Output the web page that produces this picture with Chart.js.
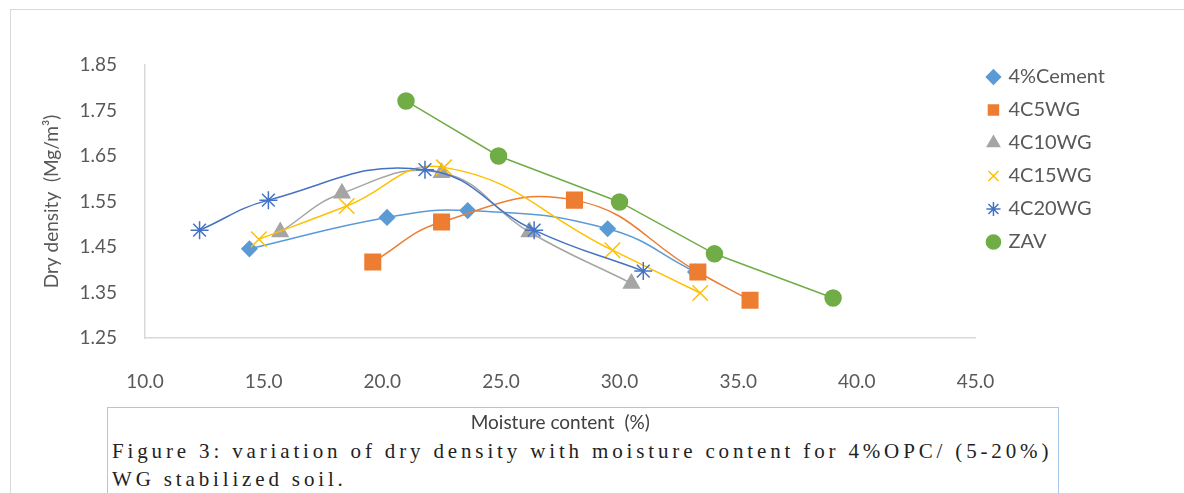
<!DOCTYPE html>
<html>
<head>
<meta charset="utf-8">
<script src="https://cdn.jsdelivr.net/npm/chart.js@4.4.0/dist/chart.umd.min.js"></script>
<style>
  body { margin: 0; background: #fff; }
  #wrap { position: relative; width: 1184px; height: 493px; overflow: hidden; }
  #frame { position: absolute; left: 10px; top: 9px; width: 1300px; height: 600px;
           border-left: 1px solid #d9d9d9; border-top: 1px solid #d9d9d9; }
  #caption { position: absolute; left: 107px; top: 407px; width: 950px; height: 150px;
             border: 1px solid #a9c7e8; }
  #caption p { margin: 0; position: absolute; left: 4px; top: 29px;
               font-family: "Liberation Serif", serif; font-size: 21px; line-height: 28px;
               letter-spacing: 3.85px; color: #222; }
  #chart { position: absolute; left: 0; top: 0; }
</style>
</head>
<body>
<div id="wrap">
  <div id="frame"></div>
  <div id="caption"><p>Figure 3: variation of dry density with moisture content for 4%OPC/ (5-20%)<br>WG stabilized soil.</p></div>
  <canvas id="chart" width="1184" height="493"></canvas>
</div>
<script>
const names = ["4%Cement", "4C5WG", "4C10WG", "4C15WG", "4C20WG", "ZAV"];
const colors = ["#5B9BD5", "#ED7D31", "#A5A5A5", "#FFC000", "#4472C4", "#70AD47"];

// moisture content (%)
const cementX = [14.4, 20.2, 23.6, 29.5, 33.2];
const c5X = [19.6, 22.5, 28.1, 33.3, 35.5];
const c10X = [15.7, 18.3, 22.5, 26.2, 30.5];
const c15X = [14.8, 18.5, 22.6, 29.7, 33.4];
const c20X = [12.3, 15.2, 21.8, 26.4, 31.0];
const zavX = [21.0, 24.9, 30.0, 34.0, 39.0];

// dry density (Mg/m3)
const cementY = [1.446, 1.515, 1.530, 1.490, 1.395];
const c5Y = [1.417, 1.505, 1.553, 1.395, 1.333];
const c10Y = [1.483, 1.568, 1.613, 1.483, 1.370];
const c15Y = [1.467, 1.540, 1.625, 1.443, 1.349];
const c20Y = [1.487, 1.553, 1.620, 1.487, 1.397];
const zavY = [1.771, 1.650, 1.549, 1.435, 1.338];

const xTicks = [10, 15, 20, 25, 30, 35, 40, 45];
const yTicks = [1.25, 1.35, 1.45, 1.55, 1.65, 1.75, 1.85];

const seriesX = [cementX, c5X, c10X, c15X, c20X, zavX];
const seriesY = [cementY, c5Y, c10Y, c15Y, c20Y, zavY];
const styles = ["rectRot", "rect", "triangle", "crossRot", "star", "circle"];
const radii = [7.5, 11, 9, 11, 9, 8];
const smooth = [0.45, 0.45, 0.45, 0.45, 0.45, 0];

const pts = (xs, ys) => xs.map((x, i) => ({ x: x, y: ys[i] }));

const datasets = names.map((name, i) => ({
  label: name,
  data: pts(seriesX[i], seriesY[i]),
  showLine: true,
  borderColor: colors[i],
  backgroundColor: colors[i],
  borderWidth: 1.5,
  pointStyle: styles[i],
  pointRadius: radii[i],
  pointBorderWidth: 1.5,
  tension: smooth[i],
  order: names.length - i
}));

const tickFont = { family: "Lato", size: 19 };

new Chart(document.getElementById("chart"), {
  type: "scatter",
  data: { datasets: datasets },
  options: {
    responsive: false,
    animation: false,
    layout: { padding: { left: 10, top: 54, right: 69, bottom: 59 } },
    scales: {
      x: {
        type: "linear",
        min: 10,
        max: 45,
        afterBuildTicks: s => { s.ticks = xTicks.map(v => ({ value: v })); },
        afterFit: s => { s.height = 96; },
        grid: { display: false },
        border: { display: true, color: "#d9d9d9", width: 1.5 },
        ticks: { color: "#595959", font: tickFont, padding: 24, callback: v => v.toFixed(1) },
        title: { display: true, text: "Moisture content  (%)", color: "#404040",
                 font: { family: "Lato", size: 19 }, padding: { top: 0, bottom: 0 } }
      },
      y: {
        type: "linear",
        min: 1.25,
        max: 1.85,
        afterBuildTicks: s => { s.ticks = yTicks.map(v => ({ value: v })); },
        afterFit: s => { s.width = 135; },
        grid: { display: false },
        border: { display: true, color: "#d9d9d9", width: 1.5 },
        ticks: { color: "#595959", font: tickFont, padding: 20, callback: v => v.toFixed(2) },
        title: { display: true, text: "Dry density  (Mg/m³)", color: "#595959",
                 font: { family: "Lato", size: 19 }, padding: { top: 30, bottom: 0 } }
      }
    },
    plugins: {
      title: { display: true, text: "", fullSize: false, padding: 0, font: { size: 11, lineHeight: 1 } },
      tooltip: { enabled: false },
      legend: {
        position: "right",
        align: "start",
        labels: {
          usePointStyle: true,
          boxWidth: 10,
          boxHeight: 10,
          padding: 13,
          color: "#595959",
          font: { family: "Lato", size: 20 },
          sort: (a, b) => a.datasetIndex - b.datasetIndex
        }
      }
    }
  }
});
</script>
</body>
</html>
